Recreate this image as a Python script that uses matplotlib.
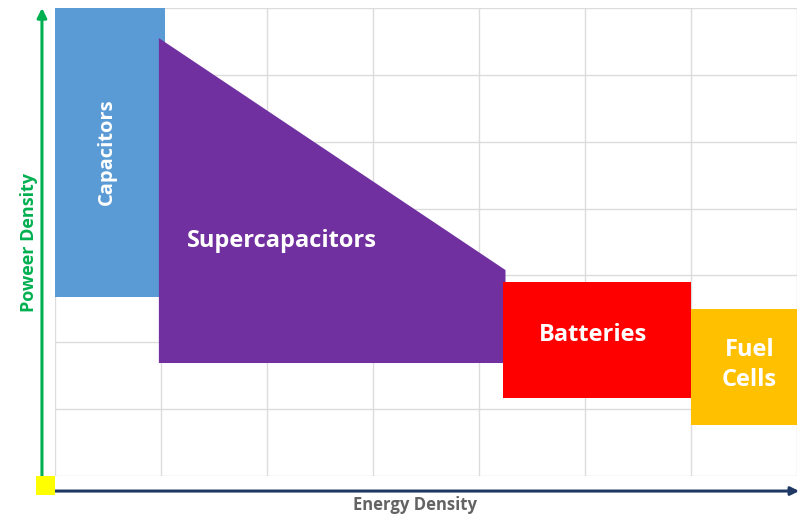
import matplotlib.pyplot as plt
from matplotlib.patches import Polygon
import matplotlib.patches as mpatches

# Regions on a 7 x 7 grid (energy density across, power density up)
technologies = ['Capacitors', 'Supercapacitors', 'Batteries', 'Fuel\nCells']
colors = ['#5B9BD5', '#7030A0', '#FF0000', '#FFC000']

# outlines as (energy, power) corners
capacitor_xy = [(0.0, 2.68), (1.04, 2.68), (1.04, 7.0), (0.0, 7.0)]
supercap_xy = [(0.98, 1.69), (4.25, 1.69), (4.25, 3.08), (0.98, 6.55)]
battery_xy = [(4.23, 1.17), (6.0, 1.17), (6.0, 2.9), (4.23, 2.9)]
fuelcell_xy = [(6.0, 0.76), (7.0, 0.76), (7.0, 2.5), (6.0, 2.5)]
label_pos = [(0.49, 4.85), (2.14, 3.52), (5.08, 2.11), (6.55, 1.66)]
label_rot = [90, 0, 0, 0]
label_size = [14.5, 17, 17, 17]

plt.rcParams['font.family'] = ['Open Sans', 'DejaVu Sans']

W, H = 799, 517
fig = plt.figure(figsize=(W / 100, H / 100), dpi=100)
ax = fig.add_axes([55 / W, (H - 476) / H, (797 - 55) / W, (476 - 8) / H])
ax.set_xlim(0, 7)
ax.set_ylim(0, 7)
ax.set_xticks(range(8))
ax.set_yticks(range(8))
ax.tick_params(length=0, labelbottom=False, labelleft=False)
ax.grid(True, color='#dcdcdc', linewidth=1.0)
for s in ax.spines.values():
    s.set_visible(False)
ax.set_axisbelow(True)

shapes = [capacitor_xy, supercap_xy, battery_xy, fuelcell_xy]
for xy, c in zip(shapes, colors):
    ax.add_patch(Polygon(xy, closed=True, facecolor=c, edgecolor='none', zorder=3))

for name, (x, y), rot, fs in zip(technologies, label_pos, label_rot, label_size):
    ax.text(x, y, name, color='white', fontsize=fs, fontweight='bold',
            rotation=rot, ha='center', va='center', linespacing=1.32, zorder=4)

# axis arrows drawn outside the grid area
ax.annotate('', xy=(-0.123, 7.0), xytext=(-0.123, -0.16),
            arrowprops=dict(arrowstyle='-|>', color='#00B050', lw=2.2,
                            mutation_scale=14, shrinkA=0, shrinkB=0),
            annotation_clip=False)
ax.annotate('', xy=(7.02, -0.225), xytext=(0.0, -0.225),
            arrowprops=dict(arrowstyle='-|>', color='#1F3864', lw=2.2,
                            mutation_scale=12, shrinkA=0, shrinkB=0),
            annotation_clip=False)
ax.add_patch(mpatches.Rectangle((-0.18, -0.28), 0.18, 0.28, facecolor='#FFFF00',
                                edgecolor='none', clip_on=False, zorder=5))

ax.text(-0.25, 3.5, 'Poweer Density', color='#00B050', fontsize=13,
        fontweight='bold', rotation=90, ha='center', va='center')
ax.text(3.4, -0.43, 'Energy Density', color='#636363', fontsize=12,
        fontweight='bold', ha='center', va='center')

fig.savefig('out.png', dpi=100)
